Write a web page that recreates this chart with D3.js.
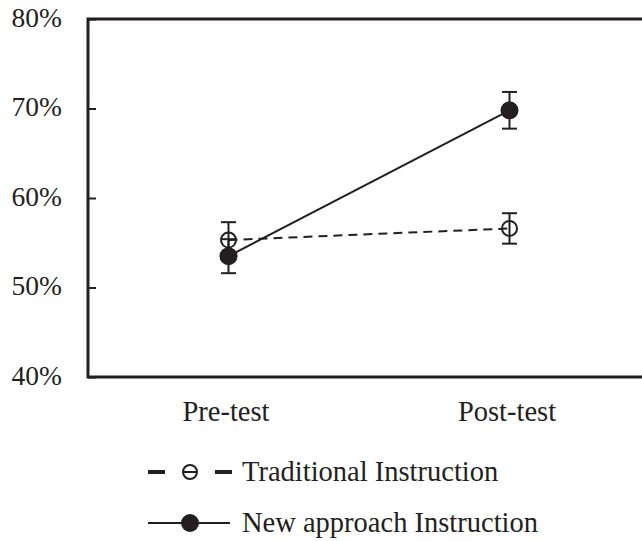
<!DOCTYPE html>
<html>
<head>
<meta charset="utf-8">
<script src="https://cdn.jsdelivr.net/npm/d3@7"></script>
<style>
  body { margin: 0; background: #fff; }
  text { font-family: "Liberation Serif", "Times New Roman", serif; fill: #231f20; }
</style>
</head>
<body>
<script>
// values (percent)
const categories = ["Pre-test", "Post-test"];
const traditional = [55.3, 56.6];
const traditionalErr = [2.0, 1.7];
const newApproach = [53.5, 69.8];
const newApproachErr = [1.9, 2.05];
const yTicks = [40, 50, 60, 70, 80];
const seriesNames = ["Traditional Instruction", "New approach Instruction"];

const w = 642, h = 541;
const ink = "#231f20";
const padL = 88, padT = 19, padB = 377, padR = 650;

const svg = d3.select("body").append("svg")
  .attr("width", w)
  .attr("height", h);

const x = d3.scalePoint()
  .domain(categories)
  .range([padL, padR])
  .padding(0.5);

const y = d3.scaleLinear()
  .domain([40, 80])
  .range([padB, padT]);

// frame
svg.append("rect")
  .attr("x", padL)
  .attr("y", padT)
  .attr("width", padR - padL)
  .attr("height", padB - padT)
  .attr("fill", "none")
  .attr("stroke", ink)
  .attr("stroke-width", 3);

const yAxis = d3.axisLeft(y)
  .tickValues(yTicks)
  .tickFormat(d => d + "%")
  .tickSizeInner(-8)
  .tickSizeOuter(0)
  .tickPadding(26);

const gy = svg.append("g")
  .attr("transform", "translate(" + padL + ",0)")
  .call(yAxis);
gy.select(".domain").remove();
gy.selectAll("line").attr("stroke", ink).attr("stroke-width", 2);
gy.selectAll("text")
  .attr("dy", "0.26em")
  .style("font-size", "27.5px")
  .style("font-family", "'Liberation Serif', serif")
  .attr("fill", ink);

const xAxis = d3.axisBottom(x)
  .tickSize(0)
  .tickPadding(24);

const gx = svg.append("g")
  .attr("transform", "translate(-3," + padB + ")")
  .call(xAxis);
gx.select(".domain").remove();
gx.selectAll("text")
  .style("font-size", "28.5px")
  .style("font-family", "'Liberation Serif', serif")
  .attr("fill", ink);

const line = d3.line()
  .x((d, i) => x(categories[i]))
  .y(d => y(d));

// connecting lines
svg.append("path")
  .datum(traditional)
  .attr("d", line)
  .attr("fill", "none")
  .attr("stroke", ink)
  .attr("stroke-width", 2)
  .attr("stroke-dasharray", "9,6");

svg.append("path")
  .datum(newApproach)
  .attr("d", line)
  .attr("fill", "none")
  .attr("stroke", ink)
  .attr("stroke-width", 2);

// error bars
function errorBars(vals, errs) {
  const g = svg.append("g")
    .attr("stroke", ink)
    .attr("stroke-width", 2);
  vals.forEach((v, i) => {
    const cx = x(categories[i]);
    g.append("line")
      .attr("x1", cx).attr("x2", cx)
      .attr("y1", y(v + errs[i])).attr("y2", y(v - errs[i]));
    [v + errs[i], v - errs[i]].forEach(e => {
      g.append("line")
        .attr("x1", cx - 7.5).attr("x2", cx + 7.5)
        .attr("y1", y(e)).attr("y2", y(e));
    });
  });
}
errorBars(traditional, traditionalErr);
errorBars(newApproach, newApproachErr);

// markers
svg.selectAll(".trad")
  .data(traditional)
  .enter()
  .append("circle")
  .attr("class", "trad")
  .attr("cx", (d, i) => x(categories[i]))
  .attr("cy", d => y(d))
  .attr("r", 7.5)
  .attr("fill", "none")
  .attr("stroke", ink)
  .attr("stroke-width", 2);

svg.selectAll(".newa")
  .data(newApproach)
  .enter()
  .append("circle")
  .attr("class", "newa")
  .attr("cx", (d, i) => x(categories[i]))
  .attr("cy", d => y(d))
  .attr("r", 9)
  .attr("fill", ink);

// legend
const lg = svg.append("g");
const ly1 = 472, ly2 = 523;

lg.append("line")
  .attr("x1", 148).attr("x2", 165).attr("y1", ly1).attr("y2", ly1)
  .attr("stroke", ink).attr("stroke-width", 4);
lg.append("line")
  .attr("x1", 215).attr("x2", 232).attr("y1", ly1).attr("y2", ly1)
  .attr("stroke", ink).attr("stroke-width", 4);
lg.append("line")
  .attr("x1", 183).attr("x2", 197).attr("y1", ly1).attr("y2", ly1)
  .attr("stroke", ink).attr("stroke-width", 2);
lg.append("circle")
  .attr("cx", 190).attr("cy", ly1).attr("r", 7)
  .attr("fill", "none").attr("stroke", ink).attr("stroke-width", 2);

lg.append("line")
  .attr("x1", 148).attr("x2", 230).attr("y1", ly2).attr("y2", ly2)
  .attr("stroke", ink).attr("stroke-width", 2);
lg.append("circle")
  .attr("cx", 190).attr("cy", ly2).attr("r", 9)
  .attr("fill", ink);

lg.selectAll("text")
  .data(seriesNames)
  .enter()
  .append("text")
  .attr("x", 242)
  .attr("y", (d, i) => i == 0 ? ly1 + 9 : ly2 + 9)
  .style("font-size", "28.5px")
  .text(d => d);
</script>
</body>
</html>
